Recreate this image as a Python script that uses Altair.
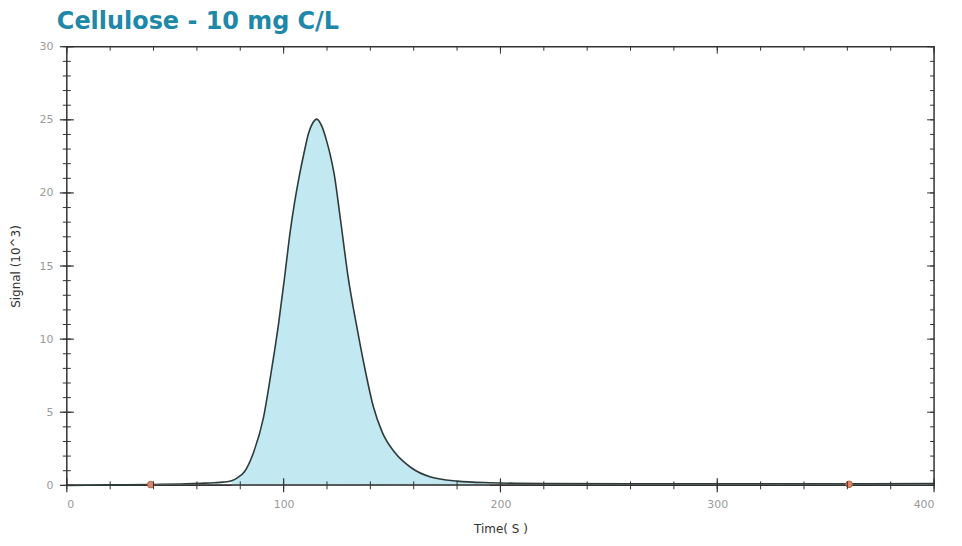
import altair as alt
import pandas as pd

# ---- data (time in s, signal in 10^3) ----
time_s = [0, 20, 40, 55, 62, 68, 72, 76, 79, 82, 86, 90.7, 94, 97.8, 100.5, 103,
          105, 107.1, 109.5, 111.5, 113.5, 115.3, 117.5, 119.7, 121.5, 123.3,
          126.2, 129.7, 133.6, 137.4, 141.4, 145.5, 151.2, 158.7, 167.8, 180,
          195, 220, 260, 300, 340, 370, 400]
signal = [0.0, 0.03, 0.06, 0.1, 0.14, 0.18, 0.22, 0.32, 0.55, 0.95, 2.2, 4.63,
          7.5, 11.2, 14.3, 17.32, 19.3, 21.07, 22.8, 24.08, 24.8, 25.05, 24.6,
          23.63, 22.6, 21.3, 18.2, 14.3, 10.97, 8.04, 5.37, 3.62, 2.26, 1.22,
          0.57, 0.29, 0.18, 0.12, 0.1, 0.1, 0.1, 0.1, 0.12]
baseline_t = [38.7, 360.8]
baseline_s = [0.05, 0.07]

x_label_vals = [0, 100, 200, 300, 400]
y_label_vals = [0, 5, 10, 15, 20, 25, 30]
x_minor = list(range(0, 401, 20))
y_minor = list(range(0, 31))

W, H = 870, 440
xs = alt.Scale(domain=[0, 400], nice=False, zero=False)
ys = alt.Scale(domain=[0, 30], nice=False)

sig = pd.DataFrame({"t": time_s, "s": signal})
base = pd.DataFrame({"t": baseline_t, "s": baseline_s})
xmin_df = pd.DataFrame({"v": x_minor})
ymin_df = pd.DataFrame({"v": y_minor})
xmaj_df = pd.DataFrame({"v": x_label_vals})
ymaj_df = pd.DataFrame({"v": y_label_vals})

FONT = "DejaVu Sans"

x_axis = alt.Axis(values=x_label_vals, tickSize=0, grid=False, domain=False,
                  labelColor="#9a9a9a", labelFontSize=11, labelFont=FONT,
                  labelPadding=13, title="Time( S )", titleFont=FONT,
                  titleFontSize=12, titleFontWeight="normal", titleColor="#333",
                  titlePadding=14)
y_axis = alt.Axis(values=y_label_vals, tickSize=0, grid=False, domain=False,
                  labelColor="#9a9a9a", labelFontSize=11, labelFont=FONT,
                  labelPadding=14, title="Signal (10^3)", titleFont=FONT,
                  titleFontSize=12, titleFontWeight="normal", titleColor="#333",
                  titlePadding=16)


def X(field):
    return alt.X(field, scale=xs, axis=x_axis)


def Y(field):
    return alt.Y(field, scale=ys, axis=y_axis)


area = alt.Chart(sig).transform_filter(
    "datum.t >= 74 && datum.t <= 200"
).mark_area(color="#bfe8f0", opacity=0.95, interpolate="monotone").encode(
    x=X("t:Q"), y=Y("s:Q"), y2=alt.datum(0),
)

line = alt.Chart(sig).mark_line(color="#2d3b3b", strokeWidth=1.6,
                                interpolate="monotone").encode(
    x=X("t:Q"), y=Y("s:Q"),
)

base_line = alt.Chart(base).mark_line(color="#555", strokeWidth=1).encode(
    x=X("t:Q"), y=Y("s:Q"),
)
base_pts = alt.Chart(base).mark_point(filled=True, size=45, shape="circle",
                                      color="#d9876c", stroke="#a8553a",
                                      strokeWidth=0.8, opacity=1).encode(
    x=X("t:Q"), y=Y("s:Q"),
)

tick_color = "#333"
# left axis ticks (crossing)
left_minor = alt.Chart(ymin_df).mark_rule(color=tick_color, strokeWidth=1).encode(
    y=Y("v:Q"), x=alt.value(-4), x2=alt.value(4))
left_major = alt.Chart(ymaj_df).mark_rule(color=tick_color, strokeWidth=1.2).encode(
    y=Y("v:Q"), x=alt.value(-7), x2=alt.value(7))
# right axis ticks (inward)
right_minor = alt.Chart(ymin_df).mark_rule(color=tick_color, strokeWidth=1).encode(
    y=Y("v:Q"), x=alt.value(W - 4), x2=alt.value(W))
right_major = alt.Chart(ymaj_df).mark_rule(color=tick_color, strokeWidth=1).encode(
    y=Y("v:Q"), x=alt.value(W - 7), x2=alt.value(W))
# bottom axis ticks (crossing)
bottom_minor = alt.Chart(xmin_df).mark_rule(color=tick_color, strokeWidth=1).encode(
    x=X("v:Q"), y=alt.value(H - 4), y2=alt.value(H + 4))
bottom_major = alt.Chart(xmaj_df).mark_rule(color=tick_color, strokeWidth=1.2).encode(
    x=X("v:Q"), y=alt.value(H - 7), y2=alt.value(H + 7))
# top axis ticks (inward)
top_minor = alt.Chart(xmin_df).mark_rule(color=tick_color, strokeWidth=1).encode(
    x=X("v:Q"), y=alt.value(0), y2=alt.value(4))
top_major = alt.Chart(xmaj_df).mark_rule(color=tick_color, strokeWidth=1).encode(
    x=X("v:Q"), y=alt.value(0), y2=alt.value(7))

chart = alt.layer(
    area, line, base_line, base_pts,
    left_minor, left_major, right_minor, right_major,
    bottom_minor, bottom_major, top_minor, top_major,
).properties(
    width=W, height=H,
    autosize="none",
    background="white",
    padding={"left": 59, "top": 38, "right": 20, "bottom": 56},
    title=alt.TitleParams("Cellulose - 10 mg C/L", anchor="start", frame="group",
                          dx=-10, offset=7, font=FONT, fontSize=24,
                          fontWeight="bold", color="#1e88a8"),
).configure_view(stroke="#333", strokeWidth=1.5)

chart.save("out.html", embed_options={"renderer": "svg", "actions": False})
